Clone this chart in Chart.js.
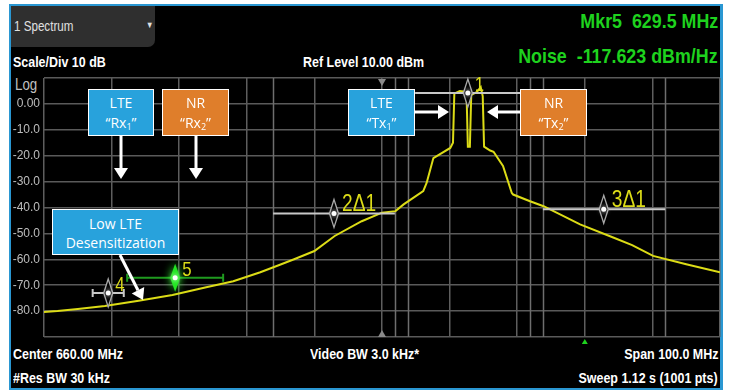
<!DOCTYPE html>
<html>
<head>
<meta charset="utf-8">
<script src="https://cdn.jsdelivr.net/npm/chart.js@4"></script>
<style>
  html, body { margin: 0; padding: 0; background: #fff; }
  #wrap { position: relative; width: 733px; height: 392px; overflow: hidden; }
  #panel { position: absolute; left: 9px; top: 4px; width: 714px; height: 386px; box-sizing: border-box;
           background: #000; border: 2px solid #2a97d2; border-right-width: 3px; }
  #chart { position: absolute; left: 0; top: 0; }
  .txt { position: absolute; white-space: nowrap; color: #fff; font-weight: bold; font-size: 15px;
         font-family: "Liberation Sans", Arial, sans-serif; transform: scaleX(0.83); transform-origin: left center; }
  .r { transform-origin: right center; }
  .green { color: #1ed21e; font-size: 21px; transform: scaleX(0.85); }
  #dropdown { position: absolute; left: 11px; top: 6px; width: 144px; height: 41px; background: #2f2f2f;
              border-bottom-right-radius: 7px; }
  .note { position: absolute; color: #fff; font-family: "Open Sans", "Noto Sans", sans-serif; font-size: 14px;
          text-align: center; border: 1px solid #fff; line-height: 20px; box-sizing: border-box; padding-top: 3px; }
  .blue { background: #28a2dc; }
  .orange { background: #df7e2b; }
  .note sub { font-size: 9px; vertical-align: -2px; }
</style>
</head>
<body>
<div id="wrap">
  <div id="panel"></div>
  <div id="dropdown"></div>
  <div class="txt" style="left:14px; top:18px; font-weight:normal; font-size:14px; color:#e0e0e0;">1 Spectrum</div>
  <div class="txt" style="left:146px; top:20px; font-size:9px; color:#e0e0e0;">&#9660;</div>
  <div class="txt" style="left:13px; top:53px;">Scale/Div 10 dB</div>
  <div class="txt" style="left:303px; top:53px;">Ref Level 10.00 dBm</div>
  <div class="txt r green" style="right:15px; top:9px;">Mkr5&nbsp; 629.5 MHz</div>
  <div class="txt r green" style="right:15px; top:44px;">Noise&nbsp; -117.623 dBm/Hz</div>
  <div class="txt" style="left:15px; top:76px; font-weight:normal; font-size:16px; color:#c0c0c0;">Log</div>
  <div class="txt" style="left:13px; top:345px;">Center 660.00 MHz</div>
  <div class="txt" style="left:310px; top:345px;">Video BW 3.0 kHz*</div>
  <div class="txt r" style="right:15px; top:345px;">Span 100.0 MHz</div>
  <div class="txt" style="left:13px; top:369px;">#Res BW 30 kHz</div>
  <div class="txt r" style="right:15px; top:369px;">Sweep 1.12 s (1001 pts)</div>
  <canvas id="chart" width="733" height="392"></canvas>
  <div class="note blue" style="left:88px; top:89px; width:66px; height:47px;">LTE<br>&ldquo;Rx<sub>1</sub>&rdquo;</div>
  <div class="note orange" style="left:162px; top:89px; width:67px; height:47px;">NR<br>&ldquo;Rx<sub>2</sub>&rdquo;</div>
  <div class="note blue" style="left:348px; top:89px; width:67px; height:47px;">LTE<br>&ldquo;Tx<sub>1</sub>&rdquo;</div>
  <div class="note orange" style="left:520px; top:89px; width:67px; height:47px;">NR<br>&ldquo;Tx<sub>2</sub>&rdquo;</div>
  <div class="note blue" style="left:52px; top:209px; width:127px; height:46px; line-height:19px; padding-top:4px;">Low LTE<br>Desensitization</div>
</div>
<script>
// trace (MHz, dBm)
const freqMHz = [610, 612, 615, 619, 624, 629, 634, 638, 642, 645, 647, 650, 653, 657, 660, 662, 663.2, 666.1, 666.6, 667.6,
  670.1, 670.5, 670.7, 671.5, 672.5, 672.7, 673.0, 673.2, 674.0, 674.6, 674.9, 675.1, 676.0, 676.5, 677.9, 679.2, 679.4,
  681.9, 683.9, 689.3, 694.2, 697, 700.1, 705, 710];
const levelDbm = [-80.3, -80.0, -79.2, -78.0, -76.0, -73.8, -70.8, -68.5, -65, -62, -60, -56.8, -51, -45.3, -42, -41.4, -38.8, -33.7, -30.5, -20.9,
  -17, -15, 4.0, 5.0, 4.6, -16.5, -16.5, 3.5, 4.5, 6.5, 3, -16.5, -18, -18.5, -24, -34.4, -35,
  -37.6, -39.5, -46.5, -51.6, -54.5, -58.7, -61.9, -65];

// markers
const markerNames = ["1", "2\u03941", "3\u03941", "4", "5"];
const markerFreqs = [672.7, 652.9, 692.8, 619.5, 629.4];
const markerLevels = [4.2, -42.3, -40.7, -73.0, -67.1];
const markerSpanLo = [664.9, 643.9, 683.8, 617.2, 622.3];
const markerSpanHi = [681.9, 661.9, 701.9, 621.8, 636.5];

// extra band edge lines on the graticule
const bandEdges = [643.9, 661.9, 663.8, 681.9, 683.8, 701.9];

const SANS = '"Liberation Sans", Arial, sans-serif';

const overlay = {
    id: "overlay",
    beforeDatasetsDraw(chart) {
        const ctx = chart.ctx;
        const xs = chart.scales.x;
        const area = chart.chartArea;
        ctx.save();
        ctx.strokeStyle = "#6e6e6e";
        ctx.lineWidth = 1.5;
        bandEdges.forEach(f => {
            const x = Math.round(xs.getPixelForValue(f)) + 0.5;
            ctx.beginPath();
            ctx.moveTo(x, area.top);
            ctx.lineTo(x, area.bottom);
            ctx.stroke();
        });
        // center frequency triangles
        const cx = xs.getPixelForValue(660);
        ctx.fillStyle = "#8a8a8a";
        ctx.beginPath();
        ctx.moveTo(cx - 4, area.top + 1); ctx.lineTo(cx + 4, area.top + 1); ctx.lineTo(cx, area.top + 8);
        ctx.fill();
        ctx.beginPath();
        ctx.moveTo(cx - 4, area.bottom); ctx.lineTo(cx + 4, area.bottom); ctx.lineTo(cx, area.bottom - 7);
        ctx.fill();
        ctx.restore();
    },
    afterDatasetsDraw(chart) {
        const ctx = chart.ctx;
        const xs = chart.scales.x;
        const ys = chart.scales.y;
        const area = chart.chartArea;
        ctx.save();

        markerNames.forEach((name, i) => {
            const x = xs.getPixelForValue(markerFreqs[i]);
            const y = ys.getPixelForValue(markerLevels[i]);
            const x0 = xs.getPixelForValue(markerSpanLo[i]);
            const x1 = xs.getPixelForValue(markerSpanHi[i]);
            const isFive = name === "5";

            // span line
            ctx.strokeStyle = isFive ? "#1f9a1f" : "#c8c8c8";
            ctx.lineWidth = 2;
            ctx.beginPath();
            ctx.moveTo(x0, y); ctx.lineTo(x1, y);
            if (isFive || name === "4") {
                ctx.moveTo(x0, y - 4); ctx.lineTo(x0, y + 4);
                ctx.moveTo(x1, y - 4); ctx.lineTo(x1, y + 4);
            }
            ctx.stroke();

            // diamond
            const h = 14, w = isFive ? 5 : 4.5;
            ctx.beginPath();
            ctx.moveTo(x, y - h); ctx.lineTo(x + w, y); ctx.lineTo(x, y + h); ctx.lineTo(x - w, y);
            ctx.closePath();
            if (isFive) {
                ctx.shadowColor = "#30ff30";
                ctx.shadowBlur = 8;
                ctx.fillStyle = "#22e622";
                ctx.fill();
                ctx.shadowBlur = 0;
            } else {
                ctx.fillStyle = "#000";
                ctx.fill();
                ctx.strokeStyle = "#a8a8a8";
                ctx.lineWidth = 1.3;
                ctx.stroke();
            }
            ctx.shadowColor = "#ffffff";
            ctx.shadowBlur = 5;
            ctx.fillStyle = "#ffffff";
            ctx.beginPath();
            ctx.arc(x, y, 2.5, 0, Math.PI * 2);
            ctx.fill();
            ctx.shadowBlur = 0;

            // label, narrowed like the analyzer font
            const big = name.length > 1;
            ctx.save();
            ctx.translate(x + (big ? 8 : 7), y - 2);
            ctx.scale(0.8, 1);
            ctx.fillStyle = "#dcdc18";
            ctx.font = (big ? "24px " : "21px ") + SANS;
            ctx.textBaseline = "alphabetic";
            ctx.textAlign = "left";
            ctx.fillText(name, 0, 0);
            ctx.restore();
        });

        // green marker-5 tick below the graticule
        const m5 = xs.getPixelForValue(690);
        ctx.fillStyle = "#1ed21e";
        ctx.beginPath();
        ctx.moveTo(m5 - 3, area.bottom + 7); ctx.lineTo(m5 + 3, area.bottom + 7); ctx.lineTo(m5, area.bottom + 2);
        ctx.fill();

        // annotation arrows (overlay drawing)
        const arrows = [[121, 136, 121, 179], [196, 136, 196, 179], [415, 112, 449, 112], [520, 112, 487, 112], [120, 255, 143, 300]];
        arrows.forEach(a => drawArrow(ctx, a[0], a[1], a[2], a[3]));
        ctx.restore();
    }
};

function drawArrow(ctx, x1, y1, x2, y2) {
    const ang = Math.atan2(y2 - y1, x2 - x1);
    const headLen = 11, headW = 7;
    const bx = x2 - Math.cos(ang) * headLen;
    const by = y2 - Math.sin(ang) * headLen;
    ctx.strokeStyle = "#fff";
    ctx.fillStyle = "#fff";
    ctx.lineWidth = 3;
    ctx.beginPath();
    ctx.moveTo(x1, y1);
    ctx.lineTo(bx, by);
    ctx.stroke();
    ctx.beginPath();
    ctx.moveTo(x2, y2);
    ctx.lineTo(bx + Math.sin(ang) * headW, by - Math.cos(ang) * headW);
    ctx.lineTo(bx - Math.sin(ang) * headW, by + Math.cos(ang) * headW);
    ctx.closePath();
    ctx.fill();
}

const ctx = document.getElementById("chart").getContext("2d");
const spectrumChart = new Chart(ctx, {
    type: "line",
    data: {
        datasets: [{
            data: freqMHz.map((f, i) => ({ x: f, y: levelDbm[i] })),
            borderColor: "#dcdc16",
            borderWidth: 2,
            pointRadius: 0,
            tension: 0
        }]
    },
    options: {
        responsive: false,
        animation: false,
        layout: { padding: { left: 0, top: 78, right: 13, bottom: 55 } },
        plugins: {
            legend: { display: false },
            tooltip: { enabled: false }
        },
        scales: {
            x: {
                type: "linear",
                min: 610,
                max: 710,
                ticks: { display: false, stepSize: 10 },
                grid: { color: "#5e5e5e", lineWidth: 1.5, drawTicks: false },
                border: { display: false },
                afterFit: s => { s.height = 0; }
            },
            y: {
                min: -90,
                max: 10,
                ticks: {
                    stepSize: 10,
                    padding: 4,
                    color: "#bdbdbd",
                    font: { family: SANS, size: 12 },
                    callback: v => (v === 10 || v === -90) ? "" : (v === 0 ? "0.00" : v.toFixed(1))
                },
                grid: { color: "#5a5a5a", lineWidth: 1.5, drawTicks: false },
                border: { display: false },
                afterFit: s => { s.width = 44; }
            }
        }
    },
    plugins: [overlay]
});
</script>
</body>
</html>
